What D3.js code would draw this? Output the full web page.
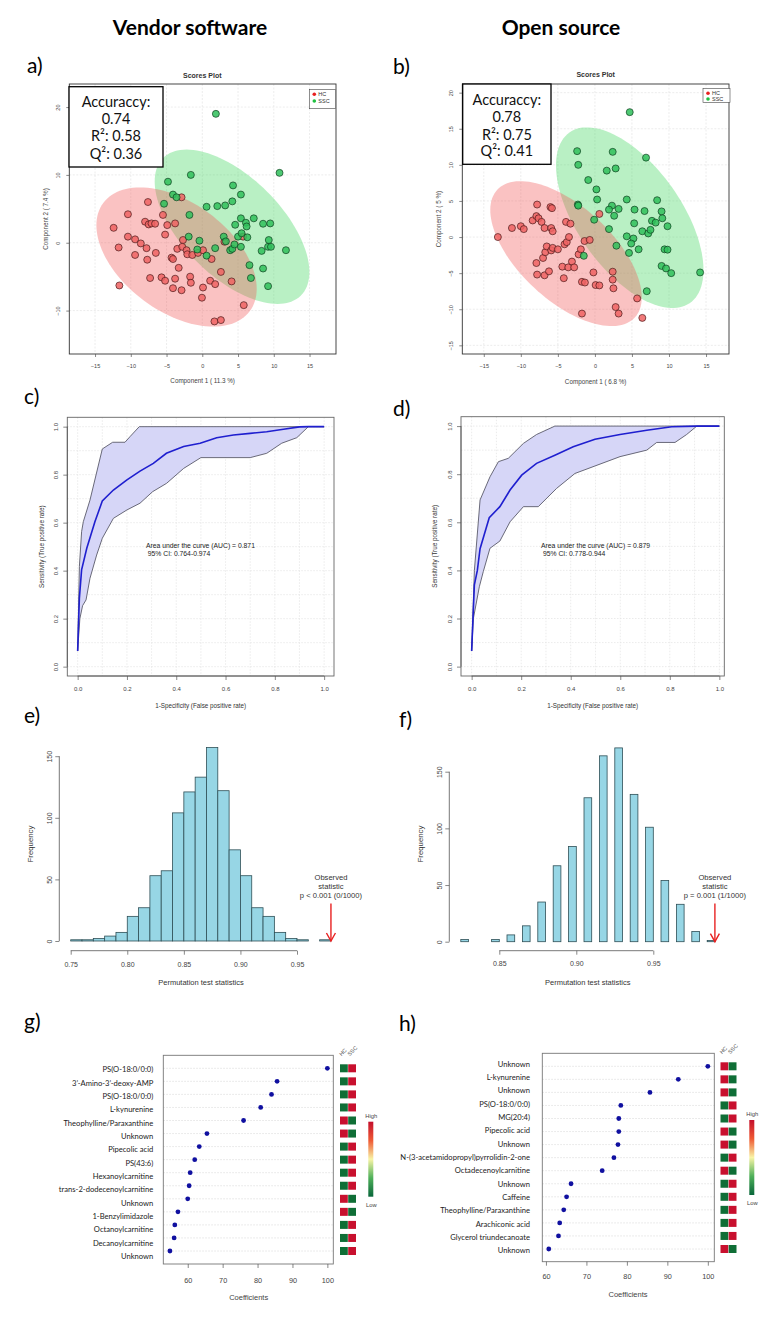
<!DOCTYPE html>
<html><head><meta charset="utf-8">
<script src="https://cdn.jsdelivr.net/npm/d3@7"></script>
<style>body{margin:0;background:#fff}svg{display:block}</style>
</head><body>
<svg id="fig" width="769" height="1317"></svg>
<script>
// ---------------- DATA ----------------
// a) Scores plot, vendor software (Component 1, Component 2)
const hcA = [[-12.4,2.2],[-10.4,4.2],[-10.4,0.9],[-11.7,-0.7],[-11.6,-6.3],[-9.4,0.5],[-9.4,-1.8],[-8.6,-0.1],[-8.0,3.1],[-7.6,6.0],[-7.5,2.7],[-7.1,2.85],[-6.6,2.8],[-7.8,-0.8],[-7.7,-2.5],[-6.5,-1.5],[-7.3,-5.2],[-5.7,-5.1],[-5.5,4.1],[-5.2,1.2],[-4.9,2.6],[-5.2,-5.6],[-4.3,-2.2],[-4.1,-2.4],[-4.1,-6.7],[-3.8,-5.3],[-3.8,2.85],[-3.5,-0.9],[-3.3,-3.7],[-2.9,6.7],[-2.9,-7.0],[-2.7,0.4],[-2.8,-0.6],[-2.2,-1.1],[-2.1,-1.7],[-1.7,-5.0],[-1.6,-5.9],[-1.4,-1.8],[-0.6,-1.5],[0.1,-1.1],[-0.05,-8.1],[0.1,-6.6],[1.1,-5.6],[1.3,-2.4],[1.8,-6.1],[1.7,-11.6],[2.6,-11.4],[2.6,-4.3],[3.1,0.15],[4.1,-5.7],[5.8,-9.2],[5.7,0.9]];
const sscA = [[1.9,19.0],[10.8,10.3],[-4.8,9.0],[-1.6,10.0],[-4.1,7.1],[-3.6,6.7],[-5.35,5.75],[-1.8,4.1],[-1.9,0.9],[-0.4,0.3],[-0.7,-1.0],[0.6,-1.9],[1.8,-0.8],[0.6,5.3],[2.1,5.4],[3.2,5.5],[4.2,6.1],[4.3,8.45],[5.4,7.1],[3.0,0.9],[3.3,0.2],[3.9,-1.1],[4.2,-0.9],[4.5,-0.25],[4.6,2.65],[5.0,0.9],[5.4,3.6],[5.5,1.4],[5.4,-0.6],[6.1,2.95],[6.2,2.4],[6.3,0.8],[7.2,3.6],[6.6,-3.3],[6.8,-5.2],[8.5,2.8],[9.5,2.85],[9.3,0.4],[9.2,-0.6],[9.6,-0.6],[8.3,-1.2],[11.7,-1.1],[8.5,-3.8],[9.2,-6.4]];
// confidence ellipses: centre and two semi-axis vectors (data units)
const ellHcA  = {cx:-3.6, cy:-2.1, ax:10.25, ay:-7.97, bx:4.54, by:6.45};
const ellSscA = {cx:4.16, cy:2.36, ax:9.64, ay:-10.13, bx:4.91, by:5.17};
const statsA = ["Accuraccy:", "0.74", "R\u00b2: 0.58", "Q\u00b2: 0.36"];

// b) Scores plot, open source
const hcB = [[-13.1,0],[-11.2,1.25],[-10.0,1.5],[-9.6,1.1],[-8.4,2.3],[-7.8,4.5],[-7.9,2.9],[-7.6,2.6],[-7.2,2.1],[-6.8,1.25],[-7.9,-3.6],[-7.8,-5.2],[-7.0,-2.9],[-6.8,-5.3],[-6.7,-2.1],[-6.5,-1.3],[-6.2,-4.75],[-6.0,4.15],[-5.8,4.0],[-5.9,1.25],[-5.7,0.8],[-5.9,-1.85],[-5.7,-1.5],[-5.0,-1.7],[-4.4,-4.1],[-4.2,-5.7],[-3.9,2.1],[-3.3,1.85],[-4.1,-1.0],[-3.8,-0.7],[-3.5,0],[-3.6,-4.2],[-3.1,-3.4],[-2.8,-4.2],[-2.2,-2.4],[-1.9,-1.7],[-1.4,-0.55],[-0.7,-0.4],[-1.75,-6.2],[-1.35,-6.3],[-1.75,-10.6],[-0.2,-4.9],[0.1,-6.65],[0.6,-6.7],[0.6,3.2],[2.4,-4.8],[2.4,-5.9],[2.5,-7.1],[2.8,-9.7],[3.2,-10.6],[5.7,-8.5],[6.4,-11.2]];
const sscB = [[4.7,17.3],[-2.4,11.9],[2.4,11.8],[6.9,11.0],[-2.25,10.0],[1.6,9.2],[2.8,9.5],[-0.9,7.9],[0.2,6.6],[0.3,5.2],[-2.3,4.5],[-2.25,4.35],[2.3,4.35],[1.9,3.8],[3.2,3.9],[4.3,5.2],[8.4,5.1],[5.35,3.8],[6.7,3.6],[9.0,3.55],[2.6,2.95],[-0.1,2.4],[1.9,1.1],[5.3,1.9],[7.7,2.25],[8.2,2.0],[9.1,2.6],[9.8,1.5],[6.4,0.8],[7.2,0.5],[7.5,1.0],[4.3,0.1],[5.2,-0.2],[4.9,-0.9],[2.9,-1.2],[4.6,-2.2],[5.9,-1.7],[9.4,-1.7],[9.8,-1.75],[9.0,-4.0],[9.6,-4.35],[10.3,-5.0],[14.2,-4.9],[7.0,-7.5],[-1.5,-2.6]];
const ellHcB  = {cx:-3.9, cy:-2.3, ax:9.28, ay:-8.85, bx:4.29, by:4.74};
const ellSscB = {cx:4.7, cy:2.68, ax:8.14, ay:-11.8, bx:5.73, by:4.17};
const statsB = ["Accuraccy:", "0.78", "R\u00b2: 0.75", "Q\u00b2: 0.41"];

const scoreTicksX = [-15,-10,-5,0,5,10,15];
const scoreTicksYA = [-10,0,10,20];
const scoreTicksYB = [-15,-10,-5,0,5,10,15,20];

// c) ROC, vendor software: [FPR, TPR]
const rocMeanC  = [[0,0.065],[0.007,0.285],[0.016,0.403],[0.037,0.493],[0.07,0.604],[0.10,0.69],[0.145,0.736],[0.2,0.778],[0.253,0.815],[0.307,0.847],[0.36,0.889],[0.43,0.917],[0.497,0.931],[0.564,0.954],[0.632,0.965],[0.7,0.972],[0.767,0.979],[0.835,0.989],[0.9,0.999],[0.936,1.0],[1,1]];
const rocUpperC = [[0,0.065],[0.007,0.417],[0.016,0.5625],[0.023,0.604],[0.05,0.694],[0.10,0.907],[0.142,0.935],[0.192,0.935],[0.212,0.958],[0.25,1.0],[1,1]];
const rocLowerC = [[0,0.065],[0.009,0.2],[0.02,0.254],[0.034,0.278],[0.05,0.368],[0.077,0.465],[0.1,0.535],[0.145,0.618],[0.2,0.653],[0.253,0.681],[0.304,0.729],[0.361,0.764],[0.43,0.826],[0.5,0.871],[0.7,0.871],[0.767,0.889],[0.828,0.931],[0.889,0.954],[0.936,1.0],[1,1]];
const aucC = ["Area under the curve (AUC) = 0.871", " 95% CI: 0.764-0.974"];
// d) ROC, open source
const rocMeanD  = [[0,0.065],[0.011,0.34],[0.023,0.40],[0.034,0.49],[0.071,0.619],[0.114,0.665],[0.155,0.734],[0.202,0.796],[0.262,0.845],[0.336,0.879],[0.41,0.914],[0.498,0.945],[0.599,0.965],[0.707,0.983],[0.808,0.997],[0.909,1.0],[1,1]];
const rocUpperD = [[0,0.065],[0.011,0.40],[0.034,0.693],[0.074,0.789],[0.108,0.852],[0.148,0.866],[0.209,0.928],[0.262,0.965],[0.336,1.0],[1,1]];
const rocLowerD = [[0,0.065],[0.007,0.2],[0.031,0.332],[0.047,0.395],[0.074,0.492],[0.114,0.522],[0.155,0.602],[0.209,0.665],[0.269,0.665],[0.343,0.741],[0.417,0.803],[0.599,0.873],[0.707,0.9],[0.747,0.932],[0.821,0.932],[0.868,0.965],[0.909,1.0],[1,1]];
const aucD = ["Area under the curve (AUC) = 0.879", " 95% CI: 0.778-0.944"];
const rocTicks = [0,0.2,0.4,0.6,0.8,1.0];

// e) permutation histogram, vendor (bins of 0.01 starting at 0.75)
const histStartE = 0.75, histWidthE = 0.01;
const histCountsE = [1,1,2,4,7,20,27,53,57,104,121,133,157,122,74,53,27,20,7,2,1,0,1];
const observedE = 0.98;
const obsTextE = ["Observed","statistic","p < 0.001 (0/1000)"];
const histTicksXE = [0.75,0.80,0.85,0.90,0.95];
// f) permutation histogram, open source (bins of 0.005 starting at 0.825)
const histStartF = 0.825, histWidthF = 0.005;
const histCountsF = [2,0,0,0,2,0,6,0,14,0,35,0,67,0,84,0,127,0,164,0,171,0,130,0,101,0,54,0,33,0,9,0,1];
const observedF = 0.99;
const obsTextF = ["Observed","statistic","p = 0.001 (1/1000)"];
const histTicksXF = [0.85,0.90,0.95];
const histTicksY = [0,50,100,150];

// g) important features, vendor
const featG = ["PS(O-18:0/0:0)","3\u2019-Amino-3\u2019-deoxy-AMP","PS(O-18:0/0:0)","L-kynurenine","Theophylline/Paraxanthine","Unknown","Pipecolic acid","PS(43:6)","Hexanoylcarnitine","trans-2-dodecenoylcarnitine","Unknown","1-Benzylimidazole","Octanoylcarnitine","Decanoylcarnitine","Unknown"];
const coefG = [100,85.6,84.0,80.9,76.0,65.5,63.3,62.0,60.7,60.4,60.0,57.2,56.3,56.1,54.9];
const hcHighG = [0,0,0,0,1,1,0,0,0,0,1,1,0,0,0]; // 1 = HC high (SSC low)
// h) important features, open source
const featH = ["Unknown","L-kynurenine","Unknown","PS(O-18:0/0:0)","MG(20:4)","Pipecolic acid","Unknown","N-(3-acetamidopropyl)pyrrolidin-2-one","Octadecenoylcarnitine","Unknown","Caffeine","Theophylline/Paraxanthine","Arachiconic acid","Glycerol triundecanoate","Unknown"];
const coefH = [100,92.7,85.7,78.5,78.0,78.0,77.8,76.8,73.9,66.2,65.1,64.4,63.4,63.1,60.7];
const hcHighH = [1,1,1,0,0,1,1,0,1,0,0,0,0,0,1];
const coefTicks = [60,70,80,90,100];
const groups = ["HC","SSC"];

// ---------------- DRAWING ----------------
const SANS = "'Liberation Sans', Arial, Helvetica, sans-serif";
const CAL = "Lato, 'Open Sans', sans-serif";
const svg = d3.select('#fig');
const defs = svg.append('defs');
const grad = defs.append('linearGradient').attr('id','hl').attr('x1',0).attr('y1',0).attr('x2',0).attr('y2',1);
[['0%','#c40f2c'],['25%','#ef5a34'],['50%','#f8f4a6'],['75%','#4fb05a'],['100%','#08663a']]
  .forEach(s=>grad.append('stop').attr('offset',s[0]).attr('stop-color',s[1]));

function txt(g,x,y,s,o={}){
  const t=g.append('text').attr('x',x).attr('y',y).text(s)
    .attr('font-family',o.ff||SANS).attr('font-size',o.fs||7).attr('fill',o.fill||'#333')
    .attr('text-anchor',o.anchor||'middle').attr('dominant-baseline',o.db||'central');
  if(o.fw) t.attr('font-weight',o.fw);
  if(o.rot!==undefined) t.attr('transform',`rotate(${o.rot},${x},${y})`);
  t.style('white-space','pre');
  return t;
}
function axisB(g,sc,ticks,y0,tl,labY,fs,fmt,line){
  const a=g.append('g').attr('transform',`translate(0,${y0})`)
    .call(d3.axisBottom(sc).tickValues(ticks).tickSize(tl).tickFormat(fmt));
  a.select('.domain').remove();
  a.selectAll('.tick line').attr('stroke','#555').attr('stroke-width',0.7);
  a.selectAll('.tick text').attr('y',labY-y0).attr('dy','0.35em').attr('font-size',fs)
    .attr('font-family',SANS).attr('fill','#444');
  if(line) a.append('line').attr('x1',sc(ticks[0])).attr('x2',sc(ticks[ticks.length-1]))
    .attr('stroke','#555').attr('stroke-width',0.8);
}
function axisL(g,sc,ticks,x0,tl,labX,fs,fmt,line){
  const a=g.append('g').attr('transform',`translate(${x0},0)`)
    .call(d3.axisLeft(sc).tickValues(ticks).tickSize(tl).tickFormat(fmt));
  a.select('.domain').remove();
  a.selectAll('.tick line').attr('stroke','#555').attr('stroke-width',0.7);
  a.selectAll('.tick text').attr('transform','rotate(-90)').attr('x',0).attr('y',-(x0-labX))
    .attr('dy','0.35em').attr('text-anchor','middle').attr('font-size',fs)
    .attr('font-family',SANS).attr('fill','#444');
  if(line) a.append('line').attr('y1',sc(ticks[0])).attr('y2',sc(ticks[ticks.length-1]))
    .attr('stroke','#555').attr('stroke-width',0.8);
}

// titles & panel letters
txt(svg,190,26,"Vendor software",{ff:CAL,fs:21,fw:'bold',fill:'#000'});
txt(svg,561,26,"Open source",{ff:CAL,fs:21,fw:'bold',fill:'#000'});
[['a)',27,73],['b)',393,74],['c)',24,404],['d)',393,416],['e)',24,723],['f)',399,727],['g)',24,1029],['h)',399,1031]]
  .forEach(p=>txt(svg,p[1],p[2],p[0],{ff:CAL,fs:21,fill:'#000',anchor:'start',db:'auto'}));

// ---------- scores panels ----------
function scores(o){
  const g=svg.append('g');
  const x=d3.scaleLinear().domain(o.xd).range([o.l,o.r]);
  const y=d3.scaleLinear().domain(o.yd).range([o.b,o.t]);
  g.append('rect').attr('x',o.l).attr('y',o.t).attr('width',o.r-o.l).attr('height',o.b-o.t).attr('fill','#fff');
  g.selectAll(null).data(scoreTicksX).join('line').attr('x1',d=>x(d)).attr('x2',d=>x(d))
    .attr('y1',o.t).attr('y2',o.b).attr('stroke','#e4e4e4').attr('stroke-width',0.7).attr('stroke-dasharray','2,1.5');
  g.selectAll(null).data(o.yt).join('line').attr('y1',d=>y(d)).attr('y2',d=>y(d))
    .attr('x1',o.l).attr('x2',o.r).attr('stroke','#e4e4e4').attr('stroke-width',0.7).attr('stroke-dasharray','2,1.5');
  const ell=(e)=>d3.range(0,2*Math.PI,Math.PI/60).map(t=>[e.cx+e.ax*Math.cos(t)+e.bx*Math.sin(t), e.cy+e.ay*Math.cos(t)+e.by*Math.sin(t)]);
  const ln=d3.line().x(d=>x(d[0])).y(d=>y(d[1])).curve(d3.curveLinearClosed);
  g.append('path').attr('d',ln(ell(o.eS))).attr('fill','rgb(70,215,100)').attr('fill-opacity',0.38);
  g.append('path').attr('d',ln(ell(o.eH))).attr('fill','rgb(240,85,85)').attr('fill-opacity',0.36);
  g.selectAll(null).data(o.hc).join('circle').attr('cx',d=>x(d[0])).attr('cy',d=>y(d[1])).attr('r',3.5)
    .attr('fill','#ee6363').attr('fill-opacity',0.85).attr('stroke','#4a1a1a').attr('stroke-width',0.7);
  g.selectAll(null).data(o.ssc).join('circle').attr('cx',d=>x(d[0])).attr('cy',d=>y(d[1])).attr('r',3.5)
    .attr('fill','#2fbf5a').attr('fill-opacity',0.85).attr('stroke','#0f3f1f').attr('stroke-width',0.7);
  g.append('rect').attr('x',o.l).attr('y',o.t).attr('width',o.r-o.l).attr('height',o.b-o.t)
    .attr('fill','none').attr('stroke','#333').attr('stroke-width',0.9);
  axisB(g,x,scoreTicksX,o.b,3,o.xlabY,5.5,d3.format('d'),false);
  axisL(g,y,o.yt,o.l,3,o.ylabX,5.5,d3.format('d'),false);
  txt(g,(o.l+o.r)/2,o.xtitY,o.xtitle,{fs:6.3,fill:'#444'});
  txt(g,o.ytitX,(o.t+o.b)/2,o.ytitle,{fs:6.3,fill:'#444',rot:-90});
  txt(g,o.titX,o.titY,"Scores Plot",{fs:7,fw:'bold',fill:'#333'});
  // stats box
  const sb=o.sb;
  g.append('rect').attr('x',sb.x).attr('y',sb.y).attr('width',sb.w).attr('height',sb.h)
    .attr('fill','#fff').attr('stroke','#000').attr('stroke-width',1.3);
  o.stats.forEach((s,i)=>txt(g,sb.x+sb.w/2,sb.ly[i],s,{ff:CAL,fs:14.5,fill:'#111'}));
  // legend
  const lg=o.lg;
  g.append('rect').attr('x',lg.x).attr('y',lg.y).attr('width',lg.w).attr('height',lg.h)
    .attr('fill','#fff').attr('stroke','#444').attr('stroke-width',0.6);
  [['#e82020',groups[0]],['#1fc040',groups[1]]].forEach((c,i)=>{
    g.append('circle').attr('cx',lg.x+5).attr('cy',lg.y+5+i*lg.dy).attr('r',1.8).attr('fill',c[0]);
    txt(g,lg.x+9,lg.y+5+i*lg.dy,c[1],{fs:5.5,anchor:'start',fill:'#333'});
  });
}
scores({l:69.3,r:336,t:84,b:354,xd:[-18.6,18.7],yd:[-16.4,23.4],yt:scoreTicksYA,hc:hcA,ssc:sscA,eH:ellHcA,eS:ellSscA,
  xlabY:366,xtitY:380,ylabX:57.7,ytitX:45,xtitle:"Component 1 ( 11.3 %)",ytitle:"Component 2 ( 7.4 %)",
  titX:202.3,titY:75.5,stats:statsA,sb:{x:69,y:86.7,w:94,h:80.3,ly:[101,118.5,135.5,153]},
  lg:{x:309.3,y:89.3,w:26.4,h:19.4,dy:6.7}});
scores({l:462.3,r:729,t:84,b:354,xd:[-17.9,18.1],yd:[-16.2,21.2],yt:scoreTicksYB,hc:hcB,ssc:sscB,eH:ellHcB,eS:ellSscB,
  xlabY:365.7,xtitY:381,ylabX:451,ytitX:438.3,xtitle:"Component 1 ( 6.8 %)",ytitle:"Component 2 ( 5 %)",
  titX:595.7,titY:74,stats:statsB,sb:{x:462.7,y:84,w:88.3,h:80.3,ly:[99.3,116.7,134,150.7]},
  lg:{x:703,y:88.3,w:27,h:14,dy:5.7}});

// ---------- ROC panels ----------
function roc(o){
  const g=svg.append('g');
  const x=d3.scaleLinear().domain(o.xd).range([o.l,o.r]);
  const y=d3.scaleLinear().domain(o.yd).range([o.b,o.t]);
  const grid=d3.range(0,1.0001,0.1);
  g.selectAll(null).data(grid).join('line').attr('x1',d=>x(d)).attr('x2',d=>x(d)).attr('y1',o.t).attr('y2',o.b)
    .attr('stroke','#e2e2e2').attr('stroke-width',0.7).attr('stroke-dasharray','1.5,1.5');
  g.selectAll(null).data(grid).join('line').attr('y1',d=>y(d)).attr('y2',d=>y(d)).attr('x1',o.l).attr('x2',o.r)
    .attr('stroke','#e2e2e2').attr('stroke-width',0.7).attr('stroke-dasharray','1.5,1.5');
  const ln=d3.line().x(d=>x(d[0])).y(d=>y(d[1]));
  g.append('path').attr('d',ln(o.up.concat(o.lo.slice().reverse()))+'Z').attr('fill','#d6d6f7');
  g.append('path').attr('d',ln(o.up)).attr('fill','none').attr('stroke','#5a5a6a').attr('stroke-width',0.9);
  g.append('path').attr('d',ln(o.lo)).attr('fill','none').attr('stroke','#5a5a6a').attr('stroke-width',0.9);
  g.append('path').attr('d',ln(o.mean)).attr('fill','none').attr('stroke','#1f1fcf').attr('stroke-width',1.6);
  g.append('rect').attr('x',o.l).attr('y',o.t).attr('width',o.r-o.l).attr('height',o.b-o.t)
    .attr('fill','none').attr('stroke','#666').attr('stroke-width',0.9);
  axisB(g,x,rocTicks,o.b,4,689.3,6,d3.format('.1f'),true);
  axisL(g,y,rocTicks,o.l,4,o.ylabX,6,d3.format('.1f'),true);
  txt(g,(o.l+o.r)/2,705.7,"1-Specificity (False positive rate)",{fs:6.3,fill:'#333'});
  txt(g,o.ytitX,(o.t+o.b)/2,"Sensitivity (True positive rate)",{fs:6.3,fill:'#333',rot:-90});
  txt(g,x(o.tx),y(0.504),o.auc[0],{fs:6.8,anchor:'start',fill:'#222'});
  txt(g,x(o.tx),y(0.471),o.auc[1],{fs:6.8,anchor:'start',fill:'#222'});
}
roc({l:67.3,r:334,t:417.3,b:676,xd:[-0.042,1.04],yd:[-0.039,1.039],mean:rocMeanC,up:rocUpperC,lo:rocLowerC,
  ylabX:56,ytitX:41.7,auc:aucC,tx:0.277});
roc({l:461,r:724.3,t:416.7,b:676,xd:[-0.043,1.02],yd:[-0.039,1.039],mean:rocMeanD,up:rocUpperD,lo:rocLowerD,
  ylabX:450,ytitX:434.3,auc:aucD,tx:0.28});

// ---------- permutation histograms ----------
function hist(o){
  const g=svg.append('g');
  const x=d3.scaleLinear().domain(o.xd).range(o.xr);
  const y=d3.scaleLinear().domain([0,150]).range(o.yr);
  g.selectAll(null).data(o.counts).join('rect')
    .attr('x',(d,i)=>x(o.start+i*o.w)).attr('width',(d,i)=>x(o.start+(i+1)*o.w)-x(o.start+i*o.w))
    .attr('y',d=>y(d)).attr('height',d=>y(0)-y(d))
    .attr('fill','#97d6e5').attr('stroke','#2e4f56').attr('stroke-width',0.8);
  axisB(g,x,o.xt,950.7,4,o.xlabY,7,d3.format('.2f'),true);
  axisL(g,y,histTicksY,o.yx,4,o.ylabX,7,d3.format('d'),true);
  txt(g,o.xtitX,o.xtitY,"Permutation test statistics",{fs:7.5,fill:'#333'});
  txt(g,o.ytitX,844,"Frequency",{fs:7.8,fill:'#333',rot:-90});
  const ax=x(o.obs);
  g.append('line').attr('x1',ax).attr('x2',ax).attr('y1',903.5).attr('y2',y(0)).attr('stroke','#e82222').attr('stroke-width',1.4);
  g.append('path').attr('d',`M${ax-4.5},${y(0)-8}L${ax},${y(0)}L${ax+4.5},${y(0)-8}`).attr('fill','none')
    .attr('stroke','#e82222').attr('stroke-width',1.4);
  o.ot.forEach((s,i)=>txt(g,ax,877.3+i*9.3,s,{fs:7.6,fill:'#333'}));
}
hist({xd:[0.75,0.95],xr:[70.7,297],yr:[941,756.2],start:histStartE,w:histWidthE,counts:histCountsE,xt:histTicksXE,
  xlabY:964.3,yx:59.3,ylabX:49.3,xtitX:201,xtitY:982.7,ytitX:30,obs:observedE,ot:obsTextE});
hist({xd:[0.85,0.95],xr:[499.3,653.3],yr:[941.7,771.7],start:histStartF,w:histWidthF,counts:histCountsF,xt:histTicksXF,
  xlabY:964,yx:449.3,ylabX:439.3,xtitX:587.7,xtitY:982.3,ytitX:420,obs:observedF,ot:obsTextF});

// ---------- feature dot plots ----------
function dots(o){
  const g=svg.append('g');
  const x=d3.scaleLinear().domain(o.xd).range([o.l,o.r]);
  const idx=d3.range(o.labels.length);
  const y=d3.scalePoint().domain(idx).range([o.y0,o.y1]);
  const yl=d3.scalePoint().domain(idx).range([o.ly0,o.ly1]);
  g.selectAll(null).data(idx).join('line').attr('x1',o.l).attr('x2',o.r).attr('y1',i=>y(i)).attr('y2',i=>y(i))
    .attr('stroke','#d8d8d8').attr('stroke-width',0.7).attr('stroke-dasharray','1.5,1.5');
  g.append('rect').attr('x',o.l).attr('y',o.t).attr('width',o.r-o.l).attr('height',o.b-o.t)
    .attr('fill','none').attr('stroke','#777').attr('stroke-width',0.9);
  g.selectAll(null).data(idx).join('circle').attr('cx',i=>x(o.vals[i])).attr('cy',i=>y(i)).attr('r',2.4).attr('fill','#1010a0');
  g.selectAll(null).data(idx).join('text').attr('x',o.lx).attr('y',i=>yl(i)).text(i=>o.labels[i])
    .attr('text-anchor','end').attr('dominant-baseline','central').attr('font-family',CAL).attr('font-size',7.6).attr('fill','#222');
  axisB(g,x,coefTicks,o.b,4,o.xlabY,7.3,d3.format('d'),false);
  txt(g,o.xtitX,o.xtitY,"Coefficients",{fs:7.5,fill:'#444'});
  // heat cells
  const RED='#c8102e', GRN='#0f6e36';
  [0,1].forEach(c=>{
    g.selectAll(null).data(idx).join('rect').attr('x',o.hx+c*8.2).attr('width',7.8)
      .attr('y',i=>y(i)-4).attr('height',8)
      .attr('fill',i=>{const hi=c===0?o.hc[i]:1-o.hc[i]; return hi?RED:GRN;});
    txt(g,o.hx+c*8.2+1.5,o.t+1,groups[c],{fs:5.5,fill:'#555',anchor:'start',db:'auto',rot:-45});
  });
  g.append('rect').attr('x',o.lgx).attr('y',o.lgy).attr('width',5).attr('height',75).attr('fill','url(#hl)');
  txt(g,o.lgx+3,o.lgy-6,"High",{fs:5.8,fill:'#444'});
  txt(g,o.lgx+3,o.lgy+83,"Low",{fs:5.8,fill:'#444'});
}
dots({l:163.3,r:333.3,t:1055.3,b:1264,xd:[53,101.7],labels:featG,vals:coefG,hc:hcHighG,y0:1068.3,y1:1251,ly0:1069.3,ly1:1256,
  lx:153.3,xlabY:1280,xtitX:248.7,xtitY:1297.3,hx:340,lgx:368.3,lgy:1121.7});
dots({l:542.3,r:714.3,t:1053.3,b:1261.7,xd:[59.1,101.6],labels:featH,vals:coefH,hc:hcHighH,y0:1066.3,y1:1249,ly0:1063.7,ly1:1250.3,
  lx:530,xlabY:1276.7,xtitX:628,xtitY:1294.7,hx:720.5,lgx:749.3,lgy:1120});
</script>
</body></html>
